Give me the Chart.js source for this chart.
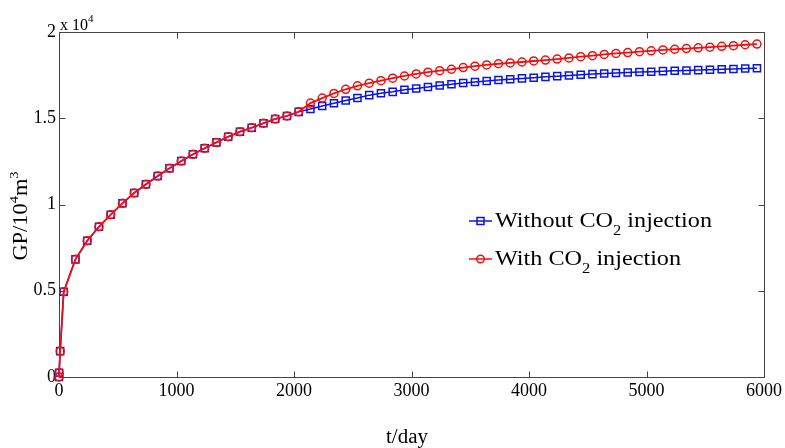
<!DOCTYPE html>
<html>
<head>
<meta charset="utf-8">
<script src="https://cdn.jsdelivr.net/npm/chart.js@4.4.1/dist/chart.umd.min.js"></script>
<style>
  html, body { margin: 0; padding: 0; background: #ffffff; }
  canvas { display: block; }
</style>
</head>
<body>
<canvas id="gp" width="785" height="448"></canvas>
<script>
// Production time, days
const days = [0, 1, 10, 40, 140, 240, 340, 440, 540, 640, 740, 840, 940,
  1040, 1140, 1240, 1340, 1440, 1540, 1640, 1740, 1840, 1940,
  2040, 2140, 2240, 2340, 2440, 2540, 2640, 2740, 2840, 2940,
  3040, 3140, 3240, 3340, 3440, 3540, 3640, 3740, 3840, 3940,
  4040, 4140, 4240, 4340, 4440, 4540, 4640, 4740, 4840, 4940,
  5040, 5140, 5240, 5340, 5440, 5540, 5640, 5740, 5840, 5940];

// Cumulative gas production, m^3 (plotted in units of 10^4)
const withoutCO2 = [0, 250, 1500, 4945, 6820, 7900, 8710, 9410, 10070, 10670, 11170, 11650, 12100,
  12520, 12910, 13260, 13600, 13930, 14220, 14450, 14710, 14960, 15130,
  15370, 15540, 15710, 15870, 16030, 16170, 16340, 16450, 16530, 16650,
  16720, 16810, 16900, 16970, 17040, 17100, 17160, 17220, 17260, 17310,
  17350, 17400, 17440, 17480, 17520, 17560, 17590, 17620, 17650, 17680,
  17700, 17730, 17750, 17770, 17790, 17810, 17840, 17860, 17880, 17900];

const withCO2 = [0, 250, 1500, 4945, 6820, 7900, 8710, 9410, 10070, 10670, 11170, 11650, 12100,
  12520, 12910, 13260, 13600, 13930, 14220, 14450, 14710, 14960, 15130,
  15380, 15880, 16170, 16440, 16680, 16880, 17030, 17180, 17320, 17450,
  17570, 17670, 17760, 17840, 17940, 18020, 18090, 18160, 18210, 18260,
  18320, 18370, 18430, 18500, 18570, 18630, 18700, 18760, 18810, 18860,
  18910, 18960, 19000, 19040, 19080, 19120, 19170, 19210, 19260, 19300];

const xTicks = [0, 1000, 2000, 3000, 4000, 5000, 6000];
const yTicks = [0, 5000, 10000, 15000, 20000];
const yTickLabels = ['0', '0.5', '1', '1.5', '2'];

const SERIF = '"Liberation Serif", "Times New Roman", serif';
const BLUE = '#0a14e6';
const RED = '#f01010';
const AXIS = '#444444';

// Draw a run of text pieces, some raised or lowered, starting at (x, baseline);
// sx widens the run horizontally
function drawRich(ctx, pieces, x, y, align, sx) {
  sx = sx || 1;
  let total = 0;
  for (const p of pieces) { ctx.font = p.font; total += ctx.measureText(p.t).width; }
  ctx.save();
  ctx.translate(x, y);
  ctx.scale(sx, 1);
  let cx = align === 'center' ? -total / 2 : 0;
  ctx.textAlign = 'left';
  ctx.textBaseline = 'alphabetic';
  for (const p of pieces) {
    ctx.font = p.font;
    ctx.fillText(p.t, cx, p.dy || 0);
    cx += ctx.measureText(p.t).width;
  }
  ctx.restore();
}

const decorations = {
  id: 'decorations',
  beforeDatasetsDraw(chart) {
    const { ctx, chartArea: a, scales: { x, y } } = chart;
    ctx.save();
    ctx.strokeStyle = AXIS;
    ctx.lineWidth = 1;
    const L = Math.round(a.left) + 0.5, R = Math.round(a.right) + 0.5;
    const T = Math.round(a.top) + 0.5, B = Math.round(a.bottom) + 0.5;
    ctx.strokeRect(L, T, R - L, B - T);
    ctx.beginPath();
    for (const v of xTicks) {
      const px = Math.round(x.getPixelForValue(v)) + 0.5;
      ctx.moveTo(px, B); ctx.lineTo(px, B - 6);
      ctx.moveTo(px, T); ctx.lineTo(px, T + 6);
    }
    for (const v of yTicks) {
      const py = Math.round(y.getPixelForValue(v)) + 0.5;
      ctx.moveTo(L, py); ctx.lineTo(L + 6, py);
      ctx.moveTo(R, py); ctx.lineTo(R - 6, py);
    }
    ctx.stroke();
    ctx.restore();
  },
  afterDraw(chart) {
    const { ctx, chartArea: a } = chart;
    ctx.save();
    ctx.fillStyle = '#000000';

    // exponent of the y axis
    drawRich(ctx, [
      { t: 'x 10', font: '16px ' + SERIF },
      { t: '4', font: '11px ' + SERIF, dy: -8 }
    ], a.left + 1, 29.5, 'left');

    // y axis title
    ctx.save();
    ctx.translate(27, 216);
    ctx.rotate(-Math.PI / 2);
    drawRich(ctx, [
      { t: 'GP/10', font: '20px ' + SERIF },
      { t: '4', font: '13px ' + SERIF, dy: -9 },
      { t: 'm', font: '20px ' + SERIF },
      { t: '3', font: '13px ' + SERIF, dy: -9 }
    ], 0, 0, 'center', 1.12);
    ctx.restore();

    // x axis title
    drawRich(ctx, [{ t: 't/day', font: '20px ' + SERIF }], 407, 443, 'center', 1.05);

    // legend
    const rows = [
      { color: BLUE, shape: 'rect', label: 'Without CO', y: 221 },
      { color: RED, shape: 'circle', label: 'With CO', y: 259 }
    ];
    for (const r of rows) {
      ctx.strokeStyle = r.color;
      ctx.lineWidth = 1.5;
      ctx.beginPath();
      ctx.moveTo(469, r.y); ctx.lineTo(492, r.y);
      ctx.stroke();
      ctx.beginPath();
      if (r.shape === 'rect') ctx.rect(480.5 - 3.5, r.y - 3.5, 7, 7);
      else ctx.arc(480.5, r.y, 3.8, 0, Math.PI * 2);
      ctx.stroke();
      ctx.fillStyle = '#000000';
      drawRich(ctx, [
        { t: r.label, font: '22px ' + SERIF },
        { t: '2', font: '15px ' + SERIF, dy: 8 },
        { t: ' injection', font: '22px ' + SERIF }
      ], 495, r.y + 5.5, 'left', 1.1);
    }
    ctx.restore();
  }
};

new Chart(document.getElementById('gp'), {
  type: 'line',
  data: {
    labels: days,
    datasets: [
      {
        label: 'Without CO2 injection',
        data: days.map((d, i) => ({ x: d, y: withoutCO2[i] })),
        borderColor: BLUE,
        borderWidth: 1.5,
        pointStyle: 'rect',
        pointRadius: 5,
        pointBorderWidth: 1.5,
        pointBorderColor: BLUE,
        pointBackgroundColor: 'rgba(0,0,0,0)',
        tension: 0,
        clip: 10,
        order: 2
      },
      {
        label: 'With CO2 injection',
        data: days.map((d, i) => ({ x: d, y: withCO2[i] })),
        borderColor: RED,
        borderWidth: 1.8,
        pointStyle: 'circle',
        pointRadius: 4,
        pointBorderWidth: 1.5,
        pointBorderColor: RED,
        pointBackgroundColor: 'rgba(0,0,0,0)',
        tension: 0,
        clip: 10,
        order: 1
      }
    ]
  },
  options: {
    responsive: false,
    animation: false,
    events: [],
    layout: { padding: { left: 0, top: 32, right: 20, bottom: 0 } },
    plugins: { legend: { display: false }, tooltip: { enabled: false } },
    scales: {
      x: {
        type: 'linear',
        min: 0, max: 6000,
        afterBuildTicks: s => { s.ticks = xTicks.map(v => ({ value: v })); },
        afterFit: s => { s.height = 71; },
        grid: { display: false, drawTicks: false },
        border: { display: false },
        ticks: {
          color: '#000000',
          font: { family: SERIF, size: 18 },
          padding: 3,
          maxRotation: 0,
          callback: v => String(v)
        }
      },
      y: {
        type: 'linear',
        min: 0, max: 20000,
        afterBuildTicks: s => { s.ticks = yTicks.map(v => ({ value: v })); },
        afterFit: s => { s.width = 59; },
        grid: { display: false, drawTicks: false },
        border: { display: false },
        ticks: {
          color: '#000000',
          font: { family: SERIF, size: 18 },
          padding: 3,
          callback: v => yTickLabels[yTicks.indexOf(v)]
        }
      }
    }
  },
  plugins: [decorations]
});
</script>
</body>
</html>
